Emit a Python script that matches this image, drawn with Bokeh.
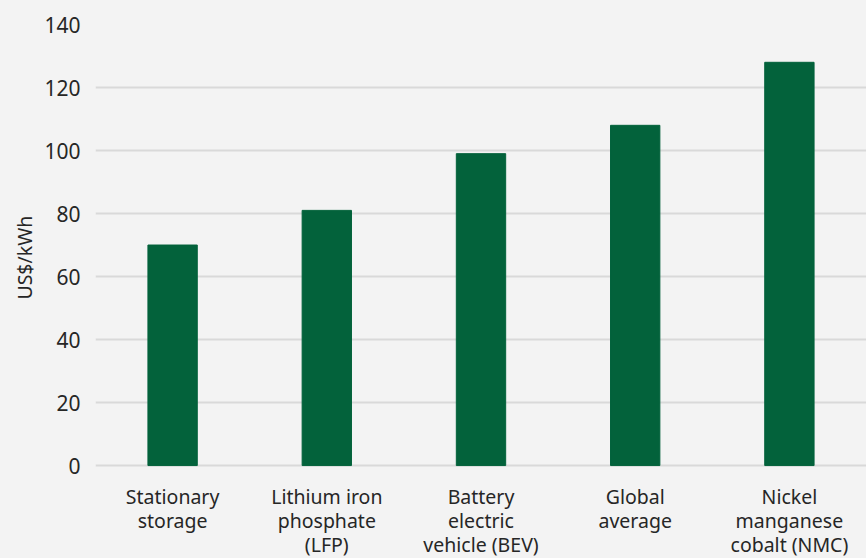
import math
from bokeh.plotting import figure
from bokeh.layouts import row
from bokeh.models import ColumnDataSource, FactorRange, Range1d, FixedTicker
from bokeh.core.properties import value
from bokeh.embed import file_html
from bokeh.resources import INLINE

categories = ["Stationary\nstorage", "Lithium iron\nphosphate\n(LFP)", "Battery\nelectric\nvehicle (BEV)",
              "Global\naverage", "Nickel\nmanganese\ncobalt (NMC)"]
values = [70, 81, 99, 108, 128]
y_ticks = [0, 20, 40, 60, 80, 100, 120, 140]
y_label = "US$/kWh"

BG = "#f3f3f3"
FONT = "Noto Sans"
TXT = "#262626"
Y_MIN, Y_MAX = -29.5, 140

src = ColumnDataSource(dict(cat=categories, val=values, ly=[-5.6] * len(values)))

# narrow left figure holding only the axis title
lp = figure(width=40, height=558, x_range=Range1d(0, 1), y_range=Range1d(Y_MIN, Y_MAX),
            output_backend="svg", toolbar_location=None,
            min_border_left=0, min_border_right=0, min_border_top=24, min_border_bottom=0)
lp.background_fill_color = BG
lp.border_fill_color = BG
lp.outline_line_color = None
lp.axis.visible = False
lp.grid.visible = False
lp.text(x=[0.6], y=[66], text=[y_label], angle=math.pi / 2, text_align="center",
        text_baseline="middle", text_font=value(FONT), text_font_size="19.5px", text_color=TXT)

p = figure(width=826, height=558, x_range=FactorRange(*categories, range_padding=0),
           y_range=Range1d(Y_MIN, Y_MAX), output_backend="svg", toolbar_location=None,
           min_border_left=55, min_border_right=0, min_border_top=24, min_border_bottom=0)
p.background_fill_color = BG
p.border_fill_color = BG
p.outline_line_color = None

p.vbar(x="cat", top="val", bottom=0, width=0.32, source=src, fill_color="#03623b", line_color="#03623b")

p.text(x="cat", y="ly", text="cat", source=src, text_align="center", text_baseline="top",
       text_font=value(FONT), text_font_size="19.5px", text_color=TXT, text_line_height=0.88)

p.xaxis.visible = False
p.xgrid.grid_line_color = None
p.ygrid.grid_line_color = "#d9d9d9"
p.ygrid.grid_line_width = 2
p.ygrid.level = "underlay"
p.ygrid.ticker = FixedTicker(ticks=y_ticks)

p.yaxis.ticker = FixedTicker(ticks=y_ticks)
p.yaxis.axis_line_color = None
p.yaxis.major_tick_line_color = None
p.yaxis.minor_tick_line_color = None
p.yaxis.major_label_text_font_size = "21px"
p.yaxis.major_label_text_color = TXT
p.yaxis.major_label_text_font = FONT
p.yaxis.major_label_standoff = 9

layout = row(lp, p, spacing=0)
layout.styles = {"background-color": BG}

open("out.html", "w").write(file_html(layout, INLINE))
